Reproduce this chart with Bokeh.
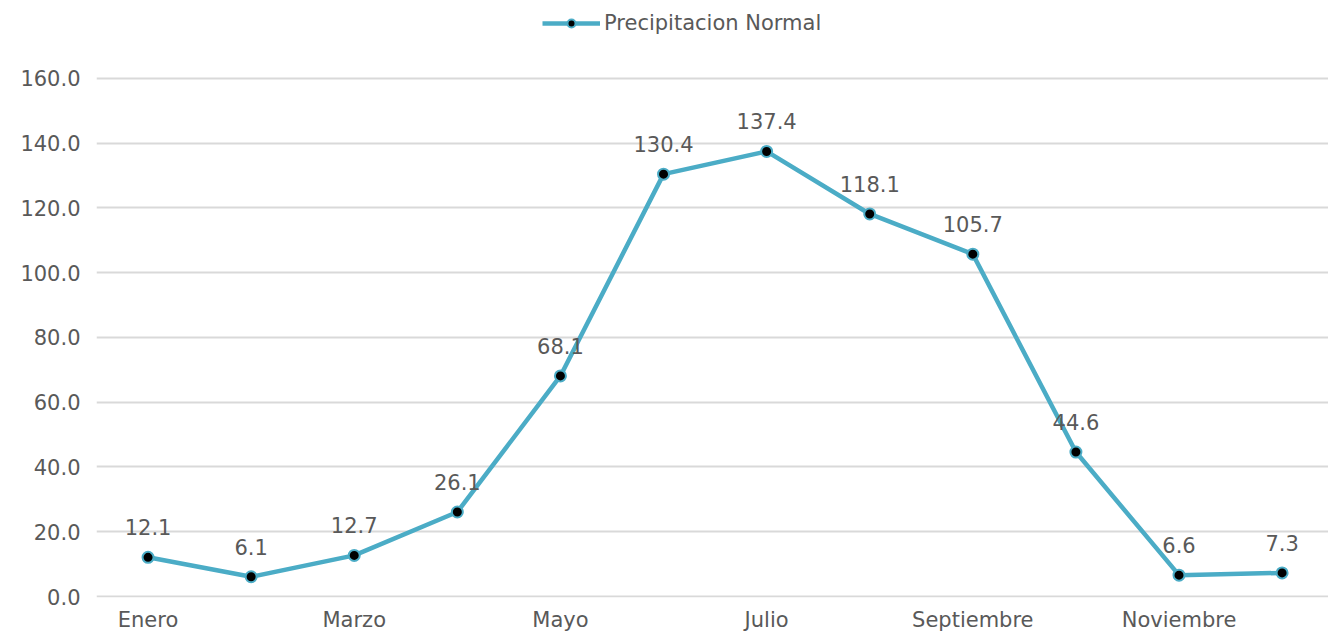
from bokeh.plotting import figure
from bokeh.models import ColumnDataSource, Range1d, FixedTicker, Legend, LegendItem
from bokeh.core.properties import value
from bokeh.embed import file_html
from bokeh.resources import INLINE

months = ["Enero", "Febrero", "Marzo", "Abril", "Mayo", "Junio", "Julio",
          "Agosto", "Septiembre", "Octubre", "Noviembre", "Diciembre"]
values = [12.1, 6.1, 12.7, 26.1, 68.1, 130.4, 137.4, 118.1, 105.7, 44.6, 6.6, 7.3]
series_name = "Precipitacion Normal"
y_ticks = [0, 20, 40, 60, 80, 100, 120, 140, 160]
x_label_ticks = [1, 3, 5, 7, 9, 11]

x = list(range(1, len(months) + 1))
src = ColumnDataSource(dict(x=x, y=values, label=[f"{v:.1f}" for v in values]))

FONT = "DejaVu Sans"
GREY = "#595959"
TEAL = "#4bacc6"

# y range extends above 160 so the legend can sit inside the frame, at the top
p = figure(width=1328, height=634, output_backend="svg", toolbar_location=None,
           x_range=Range1d(0.5, 12.45), y_range=Range1d(-0.3, 184.0),
           min_border_left=96, min_border_right=0, min_border_top=0, min_border_bottom=36)
p.outline_line_color = None
p.background_fill_color = "white"
p.border_fill_color = "white"

ln = p.line("x", "y", source=src, line_color=TEAL, line_width=4.5)
sc = p.scatter("x", "y", source=src, size=11, fill_color="black",
               line_color=TEAL, line_width=2)
p.text("x", "y", text="label", source=src, text_align="center", text_baseline="bottom",
       y_offset=-22, text_font_size="21px", text_color=GREY, text_font=value(FONT))

# axes
p.xaxis.ticker = FixedTicker(ticks=x_label_ticks)
p.xaxis.major_label_overrides = {i + 1: m for i, m in enumerate(months)}
p.yaxis.ticker = FixedTicker(ticks=y_ticks)
p.yaxis.major_label_overrides = {t: f"{t:.1f}" for t in y_ticks}
for ax in (p.xaxis, p.yaxis):
    ax.axis_line_color = None
    ax.major_tick_line_color = None
    ax.minor_tick_line_color = None
    ax.major_tick_out = 0
    ax.major_tick_in = 0
    ax.minor_tick_out = 0
    ax.major_label_text_font = FONT
    ax.major_label_text_font_size = "21px"
    ax.major_label_text_color = GREY
p.yaxis.major_label_standoff = 16
p.xaxis.major_label_standoff = 10

p.xgrid.grid_line_color = None
p.ygrid.ticker = FixedTicker(ticks=y_ticks)
p.ygrid.grid_line_color = "#d9d9d9"
p.ygrid.grid_line_width = 2

legend = Legend(items=[LegendItem(label=series_name, renderers=[ln, sc])],
                location=(446, 562), orientation="horizontal",
                label_text_font=FONT, label_text_font_size="21px",
                label_text_color=GREY, glyph_width=58, glyph_height=20,
                label_standoff=4, padding=4, margin=0, spacing=0,
                border_line_color=None, background_fill_alpha=0)
p.add_layout(legend, "center")

open("out.html", "w").write(file_html(p, INLINE))
